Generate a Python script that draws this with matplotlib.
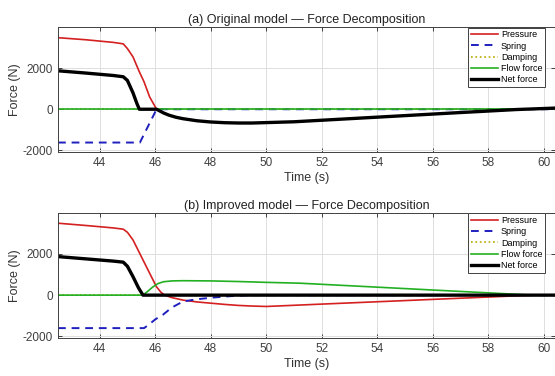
import matplotlib
matplotlib.use("Agg")
import matplotlib.pyplot as plt

plt.rcParams['font.family'] = ['Liberation Sans', 'DejaVu Sans']
plt.rcParams['axes.unicode_minus'] = False

# (a) Original model
t_pres_a = [42.5, 43.5, 44.5, 44.85, 45.0, 45.2, 45.43, 45.6, 45.8, 46.05,
            46.3, 46.5, 46.75, 47.0, 47.5, 48.0, 48.5, 49.0, 49.5, 51.0, 53.0, 55.0, 57.0, 59.0, 60.5]
pres_a = [3480, 3380, 3250, 3180, 2950, 2550, 1820, 1330, 600, 0,
          -180, -290, -390, -460, -560, -620, -655, -670, -670, -610, -460, -310, -160, -15, 60]
t_spring_a = [42.5, 45.45, 46.05, 60.5]
spring_a = [-1620, -1620, 0, 0]
t_damp_a = [42.5, 60.5]
damp_a = [0, 0]
t_flow_a = [42.5, 60.5]
flow_a = [0, 0]
t_net_a = [42.5, 43.5, 44.5, 44.85, 45.0, 45.2, 45.35, 45.43, 46.05,
           46.3, 46.5, 46.75, 47.0, 47.5, 48.0, 48.5, 49.0, 49.5, 51.0, 53.0, 55.0, 57.0, 59.0, 60.5]
net_a = [1870, 1760, 1640, 1580, 1400, 800, 250, 0, 0,
         -180, -290, -390, -460, -560, -620, -655, -670, -670, -610, -460, -310, -160, -15, 60]

# (b) Improved model
t_pres_b = [42.5, 43.5, 44.5, 44.85, 45.0, 45.2, 45.56, 45.8, 46.04, 46.2, 46.34, 46.6,
            47.0, 47.5, 48.0, 48.5, 49.0, 49.5, 50.0, 51, 52, 53, 54, 55, 56, 57, 58, 59, 59.6]
pres_b = [3490, 3380, 3260, 3200, 3050, 2680, 1710, 1065, 420, 150, 0, -120,
          -240, -330, -390, -450, -500, -530, -550, -493, -435, -378, -321, -264, -206, -149, -92, -34, 0]
t_spring_b = [42.5, 45.6, 45.8, 46.0, 46.28, 46.6, 47.0, 47.5, 48.1, 48.7, 49.4, 60.5]
spring_b = [-1600, -1600, -1400, -1180, -950, -600, -310, -200, -115, -50, 0, 0]
t_damp_b = [42.5, 60.5]
damp_b = [0, 0]
t_flow_b = [42.5, 45.55, 45.7, 45.9, 46.1, 46.3, 46.6, 47.0, 48.0, 49.0, 50.0, 51.2,
            52, 54, 56, 58, 59, 59.6]
flow_b = [0, 0, 150, 380, 560, 650, 690, 700, 690, 660, 620, 580,
          525, 387, 248, 110, 41, 0]
t_net_b = [42.5, 43.5, 44.5, 44.85, 45.0, 45.2, 45.4, 45.56, 60.5]
net_b = [1870, 1760, 1650, 1600, 1400, 900, 350, 0, 0]

titles = ['(a) Original model \u2014 Force Decomposition',
          '(b) Improved model \u2014 Force Decomposition']
labels = ['Pressure', 'Spring', 'Damping', 'Flow force', 'Net force']

data = [
    [(t_pres_a, pres_a), (t_spring_a, spring_a), (t_damp_a, damp_a), (t_flow_a, flow_a), (t_net_a, net_a)],
    [(t_pres_b, pres_b), (t_spring_b, spring_b), (t_damp_b, damp_b), (t_flow_b, flow_b), (t_net_b, net_b)],
]
styles = [
    dict(color='#d42020', lw=1.2, ls='-'),
    dict(color='#1f1fbf', lw=1.4, ls=(0, (4, 3))),
    dict(color='#b8a800', lw=1.2, ls=':'),
    dict(color='#22b022', lw=1.2, ls='-'),
    dict(color='black', lw=2.4, ls='-'),
]

fig = plt.figure(figsize=(5.55, 3.76), dpi=100)
positions = [[58/555, 1-152/376, 497/555, 125/376],
             [58/555, 1-338/376, 497/555, 125.3/376]]

for k in range(2):
    ax = fig.add_axes(positions[k])
    for (t, y), st, lab in zip(data[k], styles, labels):
        ax.plot(t, y, label=lab, **st)
    ax.set_xlim(42.5, 60.4)
    ax.set_ylim(-2080, 4000)
    ax.set_xticks(range(44, 61, 2))
    ax.set_yticks([-2000, 0, 2000])
    ax.grid(True, color='#dedede', lw=0.7)
    ax.set_axisbelow(True)
    ax.tick_params(direction='in', top=True, right=True, labelsize=8.5,
                   colors='#404040', length=3, width=0.7)
    for s in ax.spines.values():
        s.set_color('#404040')
        s.set_linewidth(0.7)
    ax.set_title(titles[k], fontsize=9, color='#222222', pad=3)
    ax.set_xlabel('Time (s)', fontsize=9, color='#333333', labelpad=2)
    ax.set_ylabel('Force (N)', fontsize=9, color='#333333', labelpad=1)
    leg = ax.legend(loc='upper right', bbox_to_anchor=(0.98, 0.995), borderaxespad=0,
                    fontsize=6.5, handlelength=3.0, handletextpad=0.3, labelspacing=0.25,
                    borderpad=0.3, fancybox=False, framealpha=1, edgecolor='#404040')
    leg.get_frame().set_linewidth(0.7)

plt.savefig('out.png', dpi=100)
